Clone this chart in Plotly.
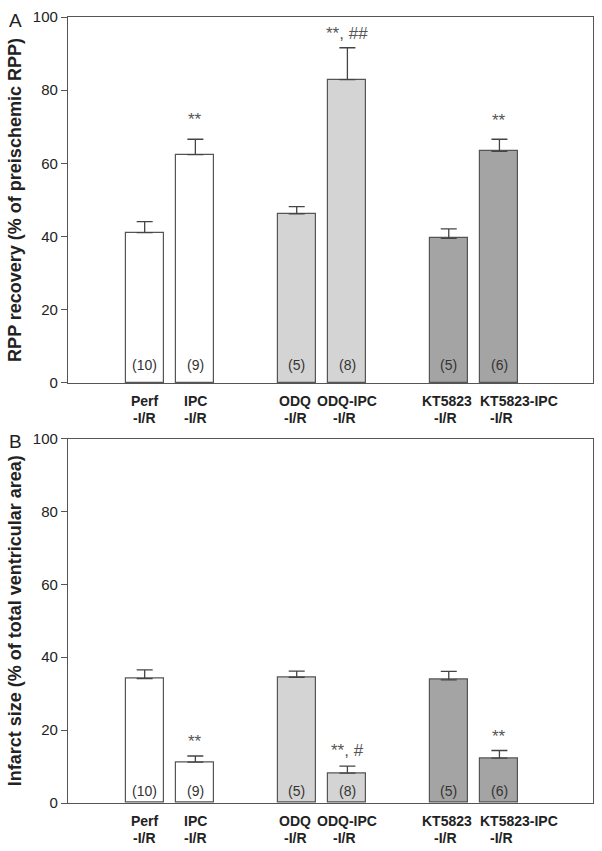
import plotly.graph_objects as go

# ---- data ----
groups = ["Perf", "IPC", "ODQ", "ODQ-IPC", "KT5823", "KT5823-IPC"]
group_line2 = ["-I/R", "-I/R", "-I/R", "-I/R", "-I/R", "-I/R"]
positions = [0, 1, 3, 4, 6, 7]
n_labels = ["(10)", "(9)", "(5)", "(8)", "(5)", "(6)"]

rpp_mean = [41.1, 62.4, 46.2, 82.9, 39.5, 63.3]
rpp_err = [3.0, 4.2, 2.0, 8.7, 2.6, 3.3]
rpp_sig = ["", "**", "", "**, ##", "", "**"]
rpp_sig_y = [0, 72.0, 0, 95.5, 0, 71.6]

inf_mean = [34.1, 11.2, 34.5, 8.2, 33.8, 12.3]
inf_err = [2.4, 1.7, 1.7, 1.9, 2.3, 2.1]
inf_sig = ["", "**", "", "**, #", "", "**"]
inf_sig_y = [0, 16.8, 0, 14.5, 0, 18.3]

bar_colors = ["#ffffff", "#ffffff", "#d4d4d4", "#d4d4d4", "#a4a4a4", "#a4a4a4"]
label1_shift = [0, 0, -2, 0, -2, 20]
label2_shift = [0, 0, -1, -3, -3, 2]

FONT = "Liberation Sans, Arial, sans-serif"
fig = go.Figure()

for xa, ya, means, errs in [("x", "y", rpp_mean, rpp_err), ("x2", "y2", inf_mean, inf_err)]:
    fig.add_trace(go.Bar(
        x=positions, y=means, width=0.75, xaxis=xa, yaxis=ya,
        marker=dict(color=bar_colors, line=dict(color="#555555", width=1.2)),
        error_y=dict(type="data", symmetric=False, array=errs,
                     arrayminus=[0] * len(errs), color="#444444",
                     thickness=1.3, width=8),
        showlegend=False, hoverinfo="skip",
    ))

annotations = []
panels = [("x", "y", "y domain", rpp_sig, rpp_sig_y, 4.9, "A"),
          ("x2", "y2", "y2 domain", inf_sig, inf_sig_y, 3.4, "B")]
for xa, ya, ydom, sig, sig_y, ny, plabel in panels:
    for i, p in enumerate(positions):
        annotations.append(dict(x=p, y=ny, xref=xa, yref=ya, text=n_labels[i],
                                showarrow=False, font=dict(family=FONT, size=14, color="#333333")))
        if sig[i]:
            annotations.append(dict(x=p, y=sig_y[i], xref=xa, yref=ya, text=sig[i],
                                    showarrow=False, font=dict(family=FONT, size=17, color="#555555")))
        annotations.append(dict(x=p, y=0, xref=xa, yref=ydom, text="<b>%s</b>" % groups[i],
                                showarrow=False, yanchor="middle", yshift=-18,
                                xshift=label1_shift[i],
                                font=dict(family=FONT, size=14, color="#222222")))
        annotations.append(dict(x=p, y=0, xref=xa, yref=ydom, text="<b>%s</b>" % group_line2[i],
                                showarrow=False, yanchor="middle", yshift=-35,
                                xshift=label2_shift[i],
                                font=dict(family=FONT, size=14, color="#222222")))
    annotations.append(dict(x=0, y=1, xref="x domain" if xa == "x" else "x2 domain",
                            yref=ydom, text=plabel, showarrow=False,
                            xanchor="center", yanchor="middle", xshift=-53, yshift=-3,
                            font=dict(family=FONT, size=19, color="#222222")))

xr = [-1.513, 8.846]
axis_common = dict(showline=True, linecolor="#555555", linewidth=1.2, mirror=True,
                   showgrid=False, zeroline=False)
fig.update_layout(
    width=602, height=851,
    margin=dict(l=68, r=8, t=13, b=48),
    paper_bgcolor="white", plot_bgcolor="white",
    font=dict(family=FONT, color="#222222"),
    bargap=0,
    xaxis=dict(domain=[0, 1], range=xr, showticklabels=False, ticks="", anchor="y", **axis_common),
    yaxis=dict(domain=[0.5344, 1.0], range=[0, 100], tickvals=[0, 20, 40, 60, 80, 100],
               ticks="outside", ticklen=6, tickcolor="#555555",
               tickfont=dict(family=FONT, size=15, color="#222222"), anchor="x",
               title=dict(text="<b>RPP recovery (% of preischemic RPP)</b>",
                          font=dict(family=FONT, size=18, color="#222222"), standoff=6),
               **axis_common),
    xaxis2=dict(domain=[0, 1], range=xr, showticklabels=False, ticks="", anchor="y2", **axis_common),
    yaxis2=dict(domain=[0.0, 0.4637], range=[0, 100], tickvals=[0, 20, 40, 60, 80, 100],
                ticks="outside", ticklen=6, tickcolor="#555555",
                tickfont=dict(family=FONT, size=15, color="#222222"), anchor="x2",
                title=dict(text="<b>Infarct size (% of total ventricular area)</b>",
                           font=dict(family=FONT, size=18, color="#222222"), standoff=6),
                **axis_common),
    annotations=annotations,
)

fig.write_html("out.html", config={"displayModeBar": False},
               post_script="document.body.style.margin='0';document.body.style.overflow='hidden';")
